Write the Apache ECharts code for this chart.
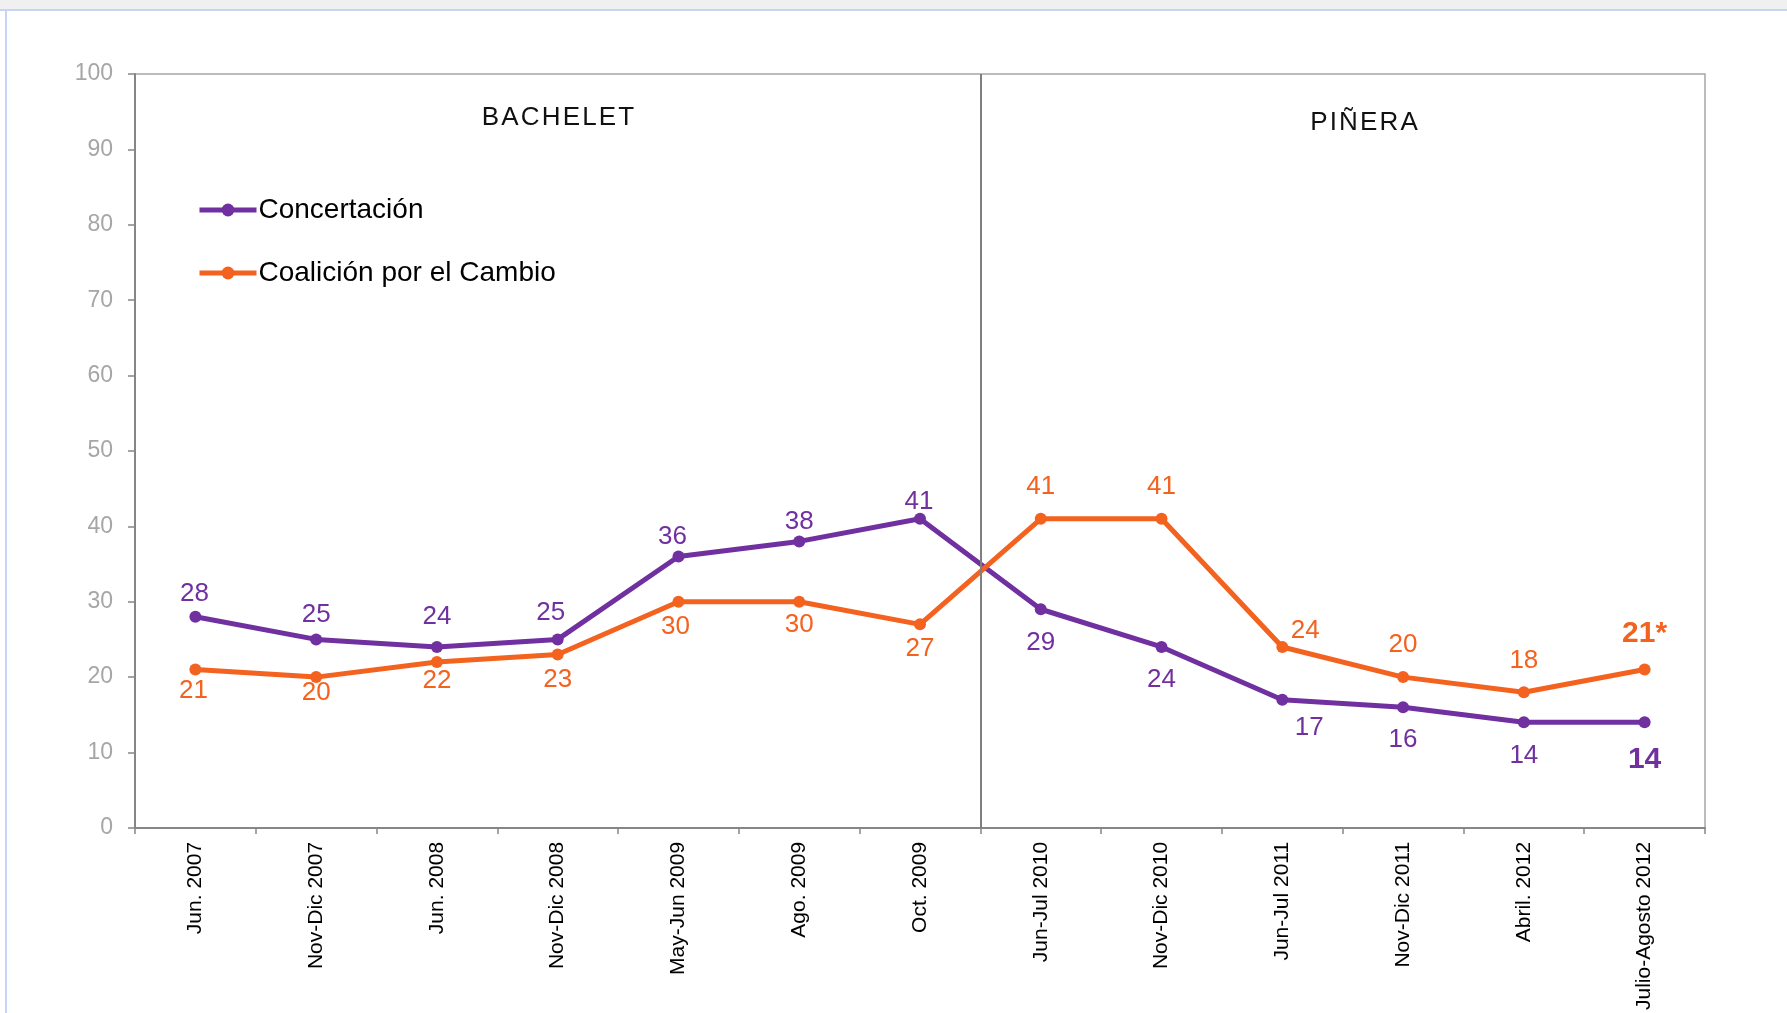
<!DOCTYPE html>
<html>
<head>
<meta charset="utf-8">
<script src="https://cdn.jsdelivr.net/npm/echarts@6/dist/echarts.min.js"></script>
<style>
html,body{margin:0;padding:0;background:#fff;}
#c{width:1787px;height:1013px;}
</style>
</head>
<body>
<div id="c"></div>
<script>
// ---- data ----
const categories = ["Jun. 2007","Nov-Dic 2007","Jun. 2008","Nov-Dic 2008","May-Jun 2009","Ago. 2009","Oct. 2009","Jun-Jul 2010","Nov-Dic 2010","Jun-Jul 2011","Nov-Dic 2011","Abril. 2012","Julio-Agosto 2012"];
const concertacion = [28,25,24,25,36,38,41,29,24,17,16,14,14];
const coalicion = [21,20,22,23,30,30,27,41,41,24,20,18,21];
const periods = ["BACHELET","PIÑERA"];
const bacheletCount = 7; // surveys under Bachelet
const yTicks = {min:0, max:100, interval:10};

// ---- label placement (style only: signed vertical gap from point, horizontal nudge) ----
const concertacionLabelDy = [-23,-25,-30,-27,-20,-20,-17, 34,33,28,33,33,37];
const concertacionLabelDx = [-1,0,0,-7,-6,0,-1, 0,0,27,0,0,0];
const coalicionLabelDy   = [21,16,19,25,25,23,24, -32,-32,-16,-32,-31,-36];
const coalicionLabelDx   = [-2,0,0,0,-3,0,0, 0,0,23,0,0,0];

const PURPLE = '#7030A0';
const ORANGE = '#F4621F';
const FONT = '"Liberation Sans", Arial, sans-serif';
const last = categories.length - 1;

function buildData(values, color, dys, dxs, suffixLast) {
  return values.map((v, i) => {
    const isLast = i === last;
    return {
      value: v,
      label: {
        show: true,
        position: 'inside',
        align: 'center',
        verticalAlign: 'middle',
        offset: [dxs[i], dys[i]],
        color: color,
        fontFamily: FONT,
        fontSize: isLast ? 30 : 26,
        fontWeight: isLast ? 'bold' : 'normal',
        formatter: isLast ? (String(v) + suffixLast) : String(v)
      }
    };
  });
}

function spaced(s) { return s.split('').join('\u200A'); }

const chart = echarts.init(document.getElementById('c'), null, {renderer:'canvas'});
chart.setOption({
  backgroundColor: '#ffffff',
  animation: false,
  grid: {
    left: 135, right: 82, top: 74, bottom: 185,
    show: true, borderColor: '#A6A6A6', borderWidth: 1.5, backgroundColor: 'transparent'
  },
  legend: {
    orient: 'vertical',
    left: 197, top: 195, padding: 0,
    itemWidth: 57, itemHeight: 16, itemGap: 33,
    lineStyle: {width: 5},
    textStyle: {fontFamily: FONT, fontSize: 28, color: '#000', lineHeight: 30, padding: [0,0,0,-3]},
    data: ['Concertación', 'Coalición por el Cambio']
  },
  xAxis: [{
    type: 'category',
    data: categories,
    boundaryGap: true,
    axisLine: {show: true, lineStyle: {color: '#868686', width: 2}},
    axisTick: {show: true, length: 6, interval: 0, lineStyle: {color: '#868686', width: 1.5}},
    axisLabel: {interval: 0, rotate: 90, margin: 14, color: '#000', fontFamily: FONT, fontSize: 21},
    splitLine: {show: false}
  },{
    type: 'value', min: 0, max: categories.length, show: false
  }],
  yAxis: {
    type: 'value',
    min: yTicks.min, max: yTicks.max, interval: yTicks.interval,
    axisLine: {show: true, lineStyle: {color: '#868686', width: 2}},
    axisTick: {show: true, length: 7, lineStyle: {color: '#868686', width: 1.5}},
    axisLabel: {margin: 22, color: '#A6A6A6', fontFamily: FONT, fontSize: 23},
    splitLine: {show: false}
  },
  series: [{
    name: 'Concertación',
    type: 'line',
    data: buildData(concertacion, PURPLE, concertacionLabelDy, concertacionLabelDx, ''),
    symbol: 'circle', symbolSize: 12,
    lineStyle: {color: PURPLE, width: 5},
    itemStyle: {color: PURPLE},
    z: 3
  },{
    name: 'Coalición por el Cambio',
    type: 'line',
    data: buildData(coalicion, ORANGE, coalicionLabelDy, coalicionLabelDx, '*'),
    symbol: 'circle', symbolSize: 12,
    lineStyle: {color: ORANGE, width: 5},
    itemStyle: {color: ORANGE},
    z: 4
  },{
    name: 'divider',
    type: 'line',
    xAxisIndex: 1,
    data: [],
    silent: true,
    markLine: {
      silent: true,
      symbol: ['none','none'],
      label: {show: false},
      lineStyle: {color: '#7F7F7F', width: 2, type: 'solid'},
      data: [{xAxis: bacheletCount}]
    },
    z: 2
  }],
  graphic: [
    {type:'rect', shape:{x:0,y:0,width:1787,height:9}, style:{fill:'#F0F0F0'}, silent:true},
    {type:'line', shape:{x1:0,y1:10,x2:1787,y2:10}, style:{stroke:'#C6D6F2', lineWidth:2}, silent:true},
    {type:'line', shape:{x1:6,y1:10,x2:6,y2:1013}, style:{stroke:'#C6D6F2', lineWidth:2}, silent:true},
    {type:'text', x:558, y:118, style:{text:spaced(periods[0]), fill:'#111', font:'26px "Liberation Sans", Arial, sans-serif', textAlign:'center', textVerticalAlign:'middle'}},
    {type:'text', x:1364, y:123, style:{text:spaced(periods[1]), fill:'#111', font:'26px "Liberation Sans", Arial, sans-serif', textAlign:'center', textVerticalAlign:'middle'}}
  ]
});
</script>
</body>
</html>
